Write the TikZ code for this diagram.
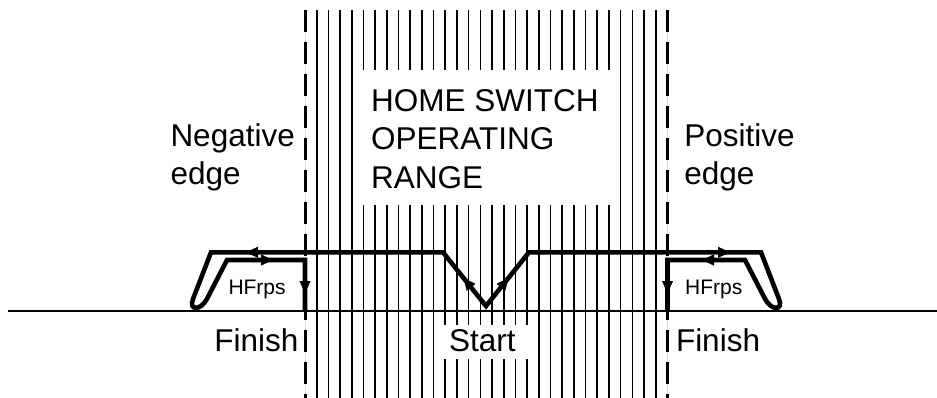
\documentclass[tikz,border=0pt]{standalone}
\usepackage{fontspec}
\setmainfont{Liberation Sans}
\usetikzlibrary{arrows.meta,decorations.markings}
\begin{document}
\begin{tikzpicture}[x=1pt,y=-1pt,
  hatch/.style={line width=1.6pt,black},
  edgeline/.style={line width=3pt,dash pattern=on 22pt off 10pt},
  edgeghost/.style={line width=1pt,black!15},
  groundline/.style={line width=2pt},
  traj/.style={line width=4.6pt,line join=miter,miter limit=10},
  bigtext/.style={inner sep=0pt,anchor=base west,font=\fontsize{31.5}{38}\selectfont},
  smalltext/.style={inner sep=0pt,anchor=base west,font=\fontsize{21}{25}\selectfont},
  tipat/.style={decorate,decoration={markings,mark=at position #1 with {\arrow{Triangle[length=12pt,width=11pt]}}}}
]
\useasboundingbox (0,0) rectangle (937,398);

% hatching of the home switch operating range
\foreach \i in {0,...,29}
  \draw[hatch] ({316.7+11.69*\i},10) -- ({316.7+11.69*\i},398);
\fill[white] (357,70) rectangle (615,205);
\fill[white] (439,325) rectangle (533,359);

% edge lines
\draw[edgeghost] (305,10) -- (305,398);
\draw[edgeghost] (667.5,10) -- (667.5,398);
\draw[edgeline] (305,10) -- (305,398);
\draw[edgeline] (667.5,10) -- (667.5,398);

% ground line
\coordinate (G0) at (8,311);
\coordinate (G1) at (937,311);
\draw[groundline] (G0) -- (G1);

% trajectory coordinates
\coordinate (S) at (486,306);
\coordinate (LVt) at (443,252.3);
\coordinate (LO) at (211,252.3);
\coordinate (LOb) at (193,299);
\coordinate (LIb) at (206.9,299);
\coordinate (LI) at (227,260);
\coordinate (LF1) at (305,260);
\coordinate (LFin) at (305,311);
\coordinate (RVt) at (529,252.3);
\coordinate (RO) at (761,252.3);
\coordinate (ROb) at (779,299);
\coordinate (RIb) at (765.1,299);
\coordinate (RI) at (745,260);
\coordinate (RF1) at (667.5,260);
\coordinate (RFin) at (667.5,311);

\draw[traj] (LFin) -- (LF1) -- (LI) -- (LIb)
  .. controls (200.9,310.6) and (188.3,311.1) .. (LOb)
  -- (LO) -- (LVt) -- (S) -- (RVt) -- (RO) -- (ROb)
  .. controls (783.7,311.1) and (771.1,310.6) .. (RIb)
  -- (RI) -- (RF1) -- (RFin);

% arrowheads
\path[tipat=36pt] (S) -- (LVt);
\path[tipat=36pt] (S) -- (RVt);
\path[tipat=197pt] (LVt) -- (LO);
\path[tipat=46pt] (LI) -- (LF1);
\path[tipat=33pt] (LF1) -- (LFin);
\path[tipat=201pt] (RVt) -- (RO);
\path[tipat=43pt] (RI) -- (RF1);
\path[tipat=33pt] (RF1) -- (RFin);

% texts
\node[bigtext] (h1) at (371,111.7) {HOME SWITCH};
\node[bigtext] (h2) at (371,150) {OPERATING};
\node[bigtext] (h3) at (371,188.3) {RANGE};
\node[bigtext] (n1) at (170.3,146.7) {Negative};
\node[bigtext] (n2) at (170.3,185) {edge};
\node[bigtext] (p1) at (684.2,146.7) {Positive};
\node[bigtext] (p2) at (684.2,185) {edge};
\node[bigtext] (fl) at (214.2,351.7) {Finish};
\node[bigtext] (st) at (449,351.7) {Start};
\node[bigtext] (fr) at (675.8,351.7) {Finish};
\node[smalltext] (hl) at (228.3,294.3) {HFrps};
\node[smalltext] (hr) at (685,294.3) {HFrps};
\end{tikzpicture}
\end{document}
